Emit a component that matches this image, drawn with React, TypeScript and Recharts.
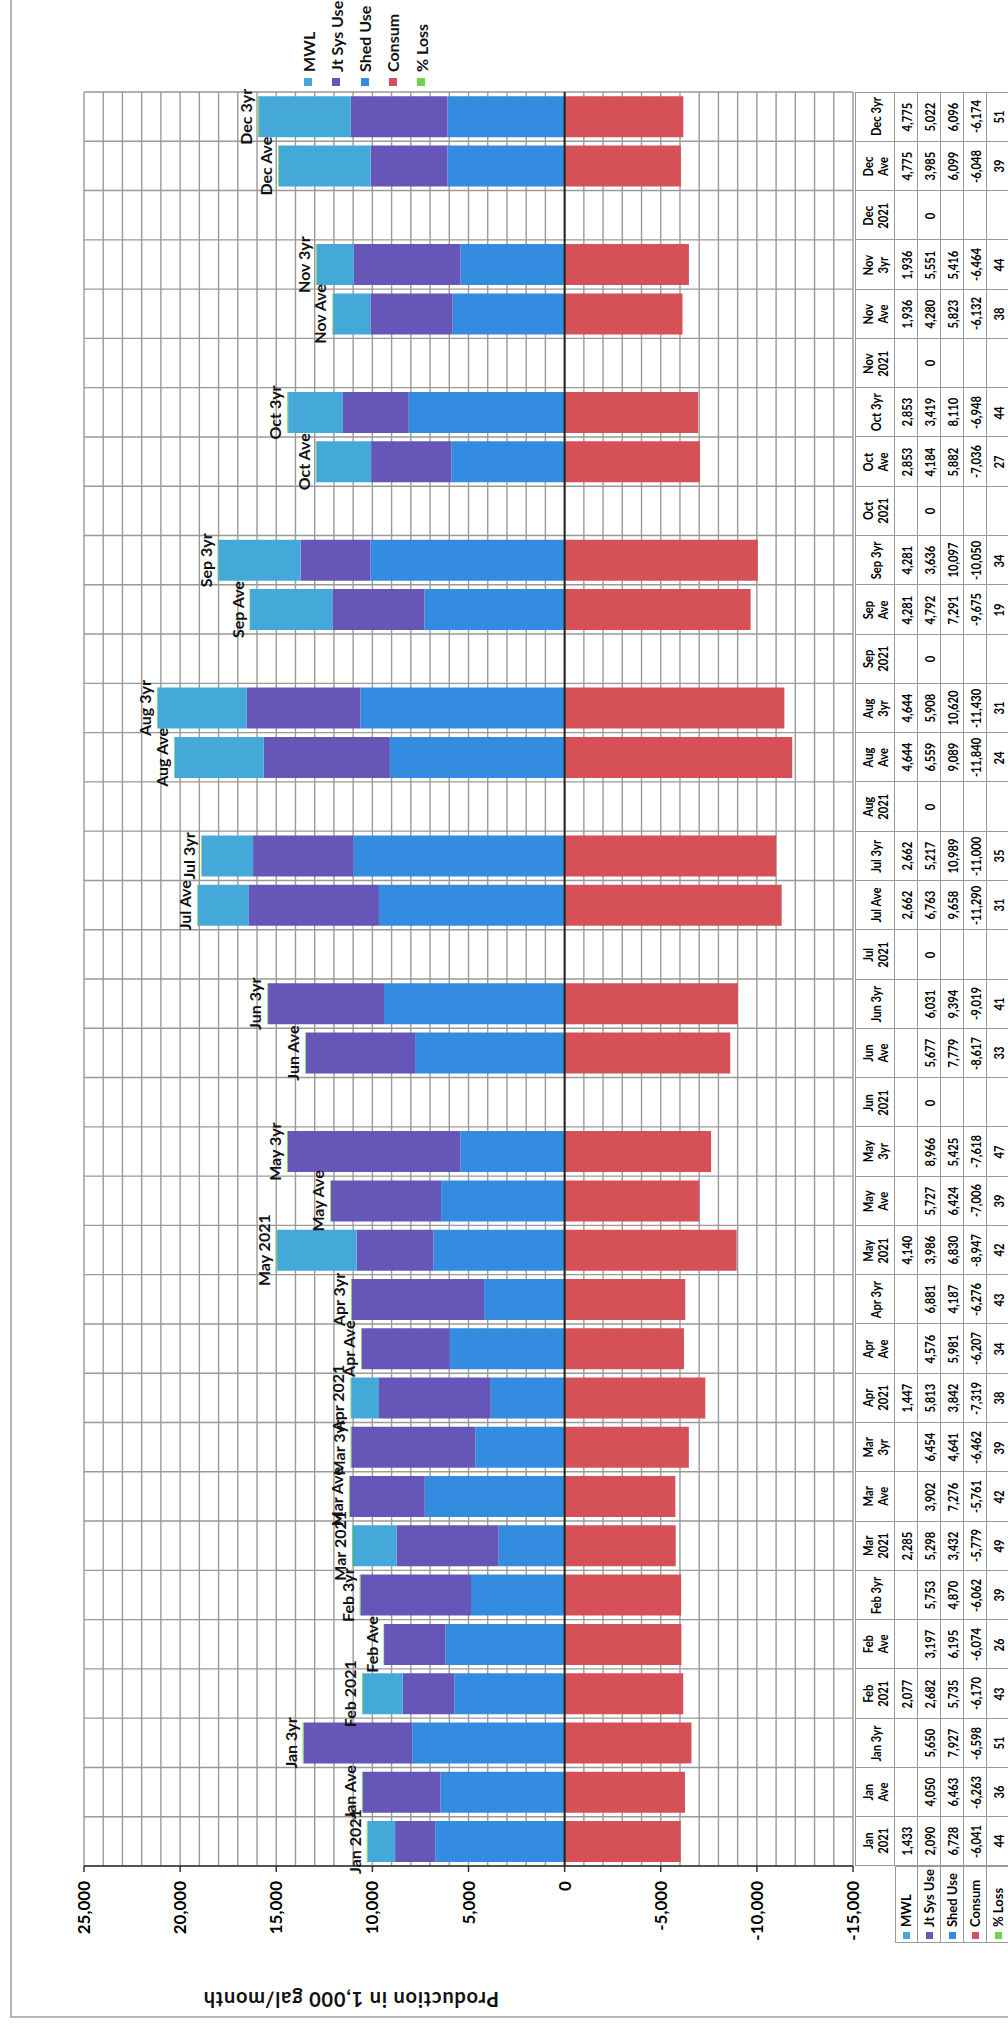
import React from "react";
import { BarChart, Bar, XAxis, YAxis, CartesianGrid, ReferenceLine, LabelList } from "recharts";

// categories, left to right in the unrotated chart
const categories = [
  "Jan 2021", "Jan Ave", "Jan 3yr", "Feb 2021", "Feb Ave", "Feb 3yr",
  "Mar 2021", "Mar Ave", "Mar 3yr", "Apr 2021", "Apr Ave", "Apr 3yr",
  "May 2021", "May Ave", "May 3yr", "Jun 2021", "Jun Ave", "Jun 3yr",
  "Jul 2021", "Jul Ave", "Jul 3yr", "Aug 2021", "Aug Ave", "Aug 3yr",
  "Sep 2021", "Sep Ave", "Sep 3yr", "Oct 2021", "Oct Ave", "Oct 3yr",
  "Nov 2021", "Nov Ave", "Nov 3yr", "Dec 2021", "Dec Ave", "Dec 3yr",
];

const mwl = [
  1433, null, null, 2077, null, null, 2285, null, null, 1447, null, null,
  4140, null, null, null, null, null, null, 2662, 2662, null, 4644, 4644,
  null, 4281, 4281, null, 2853, 2853, null, 1936, 1936, null, 4775, 4775,
];
const jtSysUse = [
  2090, 4050, 5650, 2682, 3197, 5753, 5298, 3902, 6454, 5813, 4576, 6881,
  3986, 5727, 8966, 0, 5677, 6031, 0, 6763, 5217, 0, 6559, 5908,
  0, 4792, 3636, 0, 4184, 3419, 0, 4280, 5551, 0, 3985, 5022,
];
const shedUse = [
  6728, 6463, 7927, 5735, 6195, 4870, 3432, 7276, 4641, 3842, 5981, 4187,
  6830, 6424, 5425, null, 7779, 9394, null, 9658, 10989, null, 9089, 10620,
  null, 7291, 10097, null, 5882, 8110, null, 5823, 5416, null, 6099, 6096,
];
const consum = [
  -6041, -6263, -6598, -6170, -6074, -6062, -5779, -5761, -6462, -7319, -6207, -6276,
  -8947, -7006, -7618, null, -8617, -9019, null, -11290, -11000, null, -11840, -11430,
  null, -9675, -10050, null, -7036, -6948, null, -6132, -6464, null, -6048, -6174,
];
const pctLoss = [
  44, 36, 51, 43, 26, 39, 49, 42, 39, 38, 34, 43,
  42, 39, 47, null, 33, 41, null, 31, 35, null, 24, 31,
  null, 19, 34, null, 27, 44, null, 38, 44, null, 39, 51,
];

const yTicks = [25000, 20000, 15000, 10000, 5000, 0, -5000, -10000, -15000];
// headers that fit on one line in the data table
const oneLineHeaders = ["Jan 3yr", "Feb 3yr", "Apr 3yr", "Jun 3yr", "Jul Ave", "Jul 3yr", "Sep 3yr", "Oct 3yr", "Dec 3yr"];

const series = [
  { key: "mwl", name: "MWL", color: "#44A9D8", values: mwl },
  { key: "jt", name: "Jt Sys Use", color: "#6656B8", values: jtSysUse },
  { key: "shed", name: "Shed Use", color: "#338CE0", values: shedUse },
  { key: "consum", name: "Consum", color: "#D65157", values: consum },
  { key: "loss", name: "% Loss", color: "#72D04A", values: pctLoss },
];

const chartData = categories.map((name, i) => ({
  name,
  shed: shedUse[i] ?? 0,
  jt: jtSysUse[i] ?? 0,
  mwl: mwl[i] ?? 0,
  loss: pctLoss[i] ?? 0,
  consum: consum[i] ?? 0,
  label: pctLoss[i] == null ? "" : name,
}));

// the page is a scan turned on its side: draw upright, then rotate
const W = 2026;
const H = 1010;
const PLOT_L = 160;
const PLOT_R = 1934;
const BAND = (PLOT_R - PLOT_L) / categories.length;
const TABLE_T = 855;
const HEAD_H = 40;
const ROW_H = 23;
const FONT = "Lato, 'Open Sans', sans-serif";

const fmt = (v: number | null) => (v == null ? "" : v.toLocaleString("en-US"));

const color = (k: string) => series.find((s) => s.key === k)!.color;

const TopLabel = (props: any) => {
  const vb = props.viewBox ?? props;
  if (!props.value) return null;
  return (
    <text
      x={vb.x + vb.width / 2}
      y={vb.y - 6}
      textAnchor="middle"
      fontSize={16}
      fontWeight={700}
      fontFamily="Lato"
      fill="#111"
    >
      {props.value}
    </text>
  );
};

const cell: React.CSSProperties = {
  position: "absolute",
  boxSizing: "border-box",
  display: "flex",
  alignItems: "center",
  justifyContent: "center",
  textAlign: "center",
  borderRight: "1px solid #999",
  borderBottom: "1px solid #999",
  fontWeight: 700,
  color: "#000",
  whiteSpace: "nowrap",
  fontSize: 14,
  lineHeight: "15px",
};

const narrow: React.CSSProperties = { display: "inline-block", transform: "scaleX(0.8)" };

const DataTable = () => (
  <>
    {categories.map((c, i) => (
      <div
        key={c}
        style={{
          ...cell,
          left: PLOT_L + i * BAND,
          top: TABLE_T,
          width: BAND + 0.5,
          height: HEAD_H,
          borderTop: "1px solid #999",
          borderLeft: i === 0 ? "1px solid #999" : undefined,
        }}
      >
        <span style={narrow}>
          {oneLineHeaders.includes(c) ? c : c.split(" ").map((p) => <div key={p}>{p}</div>)}
        </span>
      </div>
    ))}
    {series.map((s, r) => (
      <React.Fragment key={s.key}>
        <div
          style={{
            ...cell,
            left: 83,
            top: TABLE_T + HEAD_H + r * ROW_H,
            width: PLOT_L - 83,
            height: ROW_H,
            justifyContent: "flex-start",
            borderLeft: "1px solid #999",
            borderTop: r === 0 ? "1px solid #999" : undefined,
            fontSize: 13,
            paddingLeft: 3,
          }}
        >
          <span style={{ width: 7, height: 7, background: s.color, marginRight: 5, display: "inline-block" }} />
          {s.name}
        </div>
        {categories.map((c, i) => (
          <div
            key={c}
            style={{
              ...cell,
              left: PLOT_L + i * BAND,
              top: TABLE_T + HEAD_H + r * ROW_H,
              width: BAND + 0.5,
              height: ROW_H,
              borderLeft: i === 0 ? "1px solid #999" : undefined,
            }}
          >
            <span style={narrow}>{fmt(s.values[i])}</span>
          </div>
        ))}
      </React.Fragment>
    ))}
  </>
);

const LegendBox = () => (
  <>
    {series.map((s, i) => (
      <div
        key={s.key}
        style={{
          position: "absolute",
          left: 1940,
          top: 298 + i * 28.3,
          height: 20,
          display: "flex",
          alignItems: "center",
          fontSize: 16,
          fontWeight: 700,
          color: "#111",
          whiteSpace: "nowrap",
        }}
      >
        <span style={{ width: 8, height: 8, background: s.color, marginRight: 6, display: "inline-block" }} />
        {s.name}
      </div>
    ))}
  </>
);

export default function App() {
  return (
    <div style={{ position: "absolute", left: 0, top: 0, width: 1008, height: 2026, overflow: "hidden", background: "#fff" }}>
      <div
        style={{
          position: "absolute",
          left: 0,
          top: 0,
          width: W,
          height: H,
          transformOrigin: "0 0",
          transform: `translateY(${W}px) rotate(-90deg)`,
          fontFamily: FONT,
        }}
      >
        {/* chart frame */}
        <div style={{ position: "absolute", left: 8, top: 10, width: W, height: H, borderLeft: "2px solid #b5b5b5", borderTop: "2px solid #b5b5b5" }} />
        <div style={{ position: "absolute", left: 0, top: 0 }}>
          <BarChart
            width={W}
            height={880}
            data={chartData}
            stackOffset="sign"
            barCategoryGap={4}
            margin={{ top: 84, right: W - PLOT_R, bottom: 27, left: 90 }}
          >
            <CartesianGrid
              stroke="#999"
              strokeWidth={1.4}
              horizontalCoordinatesGenerator={({ offset }: any) =>
                Array.from({ length: 41 }, (_, i) => offset.top + (i * offset.height) / 40)
              }
              verticalCoordinatesGenerator={({ offset }: any) =>
                Array.from({ length: categories.length + 1 }, (_, i) => offset.left + (i * offset.width) / categories.length)
              }
            />
            <XAxis dataKey="name" hide />
            <YAxis
              width={70}
              domain={[-15000, 25000]}
              ticks={yTicks}
              interval={0}
              tickFormatter={(v: number) => v.toLocaleString("en-US")}
              axisLine={{ stroke: "#333", strokeWidth: 1.5 }}
              tickLine={{ stroke: "#333", strokeWidth: 1.5 }}
              tickSize={6}
              tickMargin={9}
              tick={{ fontSize: 17, fontWeight: 700, fill: "#000", fontFamily: "Lato" }}
            />
            <Bar dataKey="shed" stackId="a" fill={color("shed")} isAnimationActive={false} />
            <Bar dataKey="jt" stackId="a" fill={color("jt")} isAnimationActive={false} />
            <Bar dataKey="mwl" stackId="a" fill={color("mwl")} isAnimationActive={false} />
            <Bar dataKey="loss" stackId="a" fill={color("loss")} isAnimationActive={false}>
              <LabelList dataKey="label" content={TopLabel} />
            </Bar>
            <Bar dataKey="consum" stackId="a" fill={color("consum")} isAnimationActive={false} />
            <ReferenceLine y={0} stroke="#222" strokeWidth={2} />
          </BarChart>
        </div>
        <DataTable />
        <LegendBox />
        <div
          style={{
            position: "absolute",
            left: 26,
            top: 351,
            transform: "translate(-50%, -50%) rotate(-90deg)",
            whiteSpace: "nowrap",
            fontSize: 20,
            letterSpacing: 0.8,
            fontWeight: 700,
            color: "#111",
          }}
        >
          Production in 1,000 gal/month
        </div>
      </div>
    </div>
  );
}
